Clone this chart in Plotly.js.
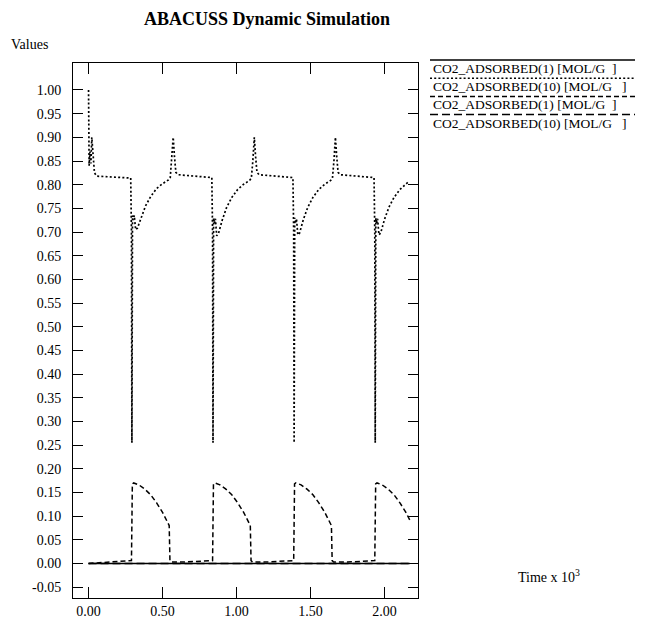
<!DOCTYPE html>
<html>
<head>
<meta charset="utf-8">
<script src="https://cdn.plot.ly/plotly-3.0.1.min.js"></script>
<style>
  html, body { margin: 0; padding: 0; background: #fff; }
  #chart { width: 647px; height: 639px; }
</style>
</head>
<body>
<div id="chart"></div>
<script>
// Time axis in units of 10^3
const timeSolid1 = [0.000, 0.300, 0.600, 0.900, 1.200, 1.500, 1.800, 2.170];
const adsorbed1Solid = [0.000, 0.000, 0.000, 0.000, 0.000, 0.000, 0.000, 0.000];

const timeDotted10 = [
  0.000, 0.004, 0.010, 0.016, 0.022, 0.030, 0.040, 0.055, 0.150, 0.250,
  0.285, 0.290, 0.293, 0.297, 0.303, 0.309, 0.318, 0.330, 0.355, 0.385,
  0.420, 0.460, 0.500, 0.540, 0.552, 0.562, 0.572, 0.580, 0.590, 0.605,
  0.700, 0.800, 0.833, 0.838, 0.841, 0.845, 0.851, 0.857, 0.866, 0.878,
  0.903, 0.933, 0.968, 1.008, 1.048, 1.088, 1.100, 1.110, 1.120, 1.128,
  1.138, 1.153, 1.248, 1.348, 1.381, 1.386, 1.389, 1.393, 1.399, 1.405,
  1.414, 1.426, 1.451, 1.481, 1.516, 1.556, 1.596, 1.636, 1.648, 1.658,
  1.668, 1.676, 1.686, 1.701, 1.796, 1.896, 1.929, 1.934, 1.937, 1.941,
  1.947, 1.953, 1.962, 1.974, 1.999, 2.029, 2.064, 2.104, 2.144, 2.165
];
const adsorbed10Dotted = [
  1.000, 0.840, 0.870, 0.845, 0.900, 0.860, 0.825, 0.818, 0.817, 0.815,
  0.814, 0.700, 0.255, 0.735, 0.725, 0.735, 0.705, 0.708, 0.730, 0.755,
  0.775, 0.792, 0.802, 0.810, 0.815, 0.850, 0.900, 0.862, 0.826, 0.821,
  0.818, 0.816, 0.815, 0.700, 0.255, 0.730, 0.718, 0.728, 0.692, 0.697,
  0.725, 0.752, 0.773, 0.790, 0.801, 0.809, 0.814, 0.850, 0.900, 0.862,
  0.826, 0.821, 0.818, 0.816, 0.815, 0.700, 0.255, 0.730, 0.718, 0.728,
  0.694, 0.698, 0.726, 0.752, 0.773, 0.790, 0.801, 0.809, 0.814, 0.850,
  0.900, 0.862, 0.826, 0.821, 0.818, 0.816, 0.815, 0.700, 0.255, 0.730,
  0.718, 0.728, 0.694, 0.698, 0.726, 0.752, 0.773, 0.790, 0.801, 0.807
];

const timeDashed1 = [
  0.000, 0.050, 0.150, 0.250, 0.290, 0.296, 0.305, 0.340, 0.380, 0.420,
  0.460, 0.500, 0.535, 0.545, 0.550, 0.560, 0.650, 0.750, 0.838, 0.844,
  0.853, 0.888, 0.928, 0.968, 1.008, 1.048, 1.083, 1.093, 1.098, 1.108,
  1.200, 1.300, 1.386, 1.392, 1.401, 1.436, 1.476, 1.516, 1.556, 1.596,
  1.631, 1.641, 1.646, 1.656, 1.750, 1.850, 1.934, 1.940, 1.949, 1.984,
  2.024, 2.064, 2.104, 2.144, 2.170
];
const adsorbed1Dashed = [
  0.000, 0.001, 0.002, 0.004, 0.006, 0.168, 0.170, 0.166, 0.157, 0.145,
  0.128, 0.108, 0.088, 0.080, 0.006, 0.003, 0.003, 0.004, 0.006, 0.168,
  0.170, 0.166, 0.157, 0.145, 0.128, 0.108, 0.088, 0.080, 0.006, 0.003,
  0.003, 0.004, 0.006, 0.168, 0.170, 0.166, 0.157, 0.145, 0.128, 0.108,
  0.088, 0.080, 0.006, 0.003, 0.003, 0.004, 0.006, 0.168, 0.170, 0.166,
  0.157, 0.145, 0.128, 0.108, 0.092
];

const timeLongDash10 = [0.000, 0.300, 0.600, 0.900, 1.200, 1.500, 1.800, 2.170];
const adsorbed10LongDash = [0.000, 0.000, 0.000, 0.000, 0.000, 0.000, 0.000, 0.000];

const seriesNames = [
  "CO2_ADSORBED(1) [MOL/G\u00a0\u00a0]",
  "CO2_ADSORBED(10) [MOL/G\u00a0\u00a0\u00a0]",
  "CO2_ADSORBED(1) [MOL/G\u00a0\u00a0]",
  "CO2_ADSORBED(10) [MOL/G\u00a0\u00a0\u00a0]"
];
const seriesDashes = ["solid", "2px,2.2px", "5px,3px", "8px,4px"];
const seriesWidths = [1.5, 1.7, 1.5, 1.5];

const xTickVals = [0.0, 0.5, 1.0, 1.5, 2.0];
const xTickText = ["0.00", "0.50", "1.00", "1.50", "2.00"];
const yTickVals = [-0.05, 0.00, 0.05, 0.10, 0.15, 0.20, 0.25, 0.30, 0.35, 0.40, 0.45,
                   0.50, 0.55, 0.60, 0.65, 0.70, 0.75, 0.80, 0.85, 0.90, 0.95, 1.00];
const yTickText = ["-0.05", "0.00", "0.05", "0.10", "0.15", "0.20", "0.25", "0.30", "0.35",
                   "0.40", "0.45", "0.50", "0.55", "0.60", "0.65", "0.70", "0.75", "0.80",
                   "0.85", "0.90", "0.95", "1.00"];

const FONT = "Liberation Serif, Times New Roman, serif";
const W = 647, H = 639;
const M = { l: 73, r: 229, t: 63, b: 41 };
const plotW = W - M.l - M.r, plotH = H - M.t - M.b;
const px2x = px => (px - M.l) / plotW;
const px2y = py => (H - M.b - py) / plotH;

const xs = [timeSolid1, timeDotted10, timeDashed1, timeLongDash10];
const ys = [adsorbed1Solid, adsorbed10Dotted, adsorbed1Dashed, adsorbed10LongDash];

const traces = xs.map((x, i) => ({
  x: x, y: ys[i], type: "scatter", mode: "lines",
  name: seriesNames[i],
  line: { color: "#000", width: seriesWidths[i], dash: seriesDashes[i] },
  showlegend: false
}));

// Legend drawn as text entries with the line style above each label
const shapes = [];
const annotations = [];
seriesNames.forEach((name, i) => {
  const lineY = 60 + i * 18.2;
  shapes.push({
    type: "line", xref: "paper", yref: "paper",
    x0: px2x(430), x1: px2x(635), y0: px2y(lineY), y1: px2y(lineY),
    line: { color: "#000", width: 1.5, dash: seriesDashes[i] }
  });
  annotations.push({
    xref: "paper", yref: "paper", x: px2x(431), y: px2y(lineY + 8.5),
    xanchor: "left", yanchor: "middle", showarrow: false,
    text: name, font: { family: FONT, size: 13.5, color: "#000" }
  });
});

annotations.push({
  xref: "paper", yref: "paper", x: px2x(9), y: px2y(44),
  xanchor: "left", yanchor: "middle", showarrow: false,
  text: "Values", font: { family: FONT, size: 14, color: "#000" }
});
annotations.push({
  xref: "paper", yref: "paper", x: px2x(516), y: px2y(576),
  xanchor: "left", yanchor: "middle", showarrow: false,
  text: "Time x 10<sup>3</sup>", font: { family: FONT, size: 14, color: "#000" }
});

const layout = {
  width: W, height: H,
  margin: M,
  paper_bgcolor: "#fff", plot_bgcolor: "#fff",
  font: { family: FONT, size: 14, color: "#000" },
  title: {
    text: "<b>ABACUSS Dynamic Simulation</b>",
    font: { family: FONT, size: 18, color: "#000" },
    xref: "container", x: 267 / W, xanchor: "center",
    yref: "container", y: 1 - 19 / H, yanchor: "middle"
  },
  xaxis: {
    range: [-0.105, 2.226],
    tickvals: xTickVals, ticktext: xTickText,
    ticks: "inside", ticklen: 11, tickwidth: 1, tickcolor: "#000",
    showline: true, linecolor: "#000", linewidth: 1, mirror: "ticks",
    showgrid: false, zeroline: false,
    tickfont: { family: FONT, size: 14, color: "#000" }
  },
  yaxis: {
    range: [-0.073, 1.057],
    tickvals: yTickVals, ticktext: yTickText,
    ticks: "inside", ticklen: 10, tickwidth: 1, tickcolor: "#000",
    showline: true, linecolor: "#000", linewidth: 1, mirror: "ticks",
    showgrid: false, zeroline: false, ticklabelstandoff: 8,
    tickfont: { family: FONT, size: 14, color: "#000" }
  },
  shapes: shapes,
  annotations: annotations,
  showlegend: false
};

Plotly.newPlot("chart", traces, layout, { staticPlot: true, displayModeBar: false });
</script>
</body>
</html>
